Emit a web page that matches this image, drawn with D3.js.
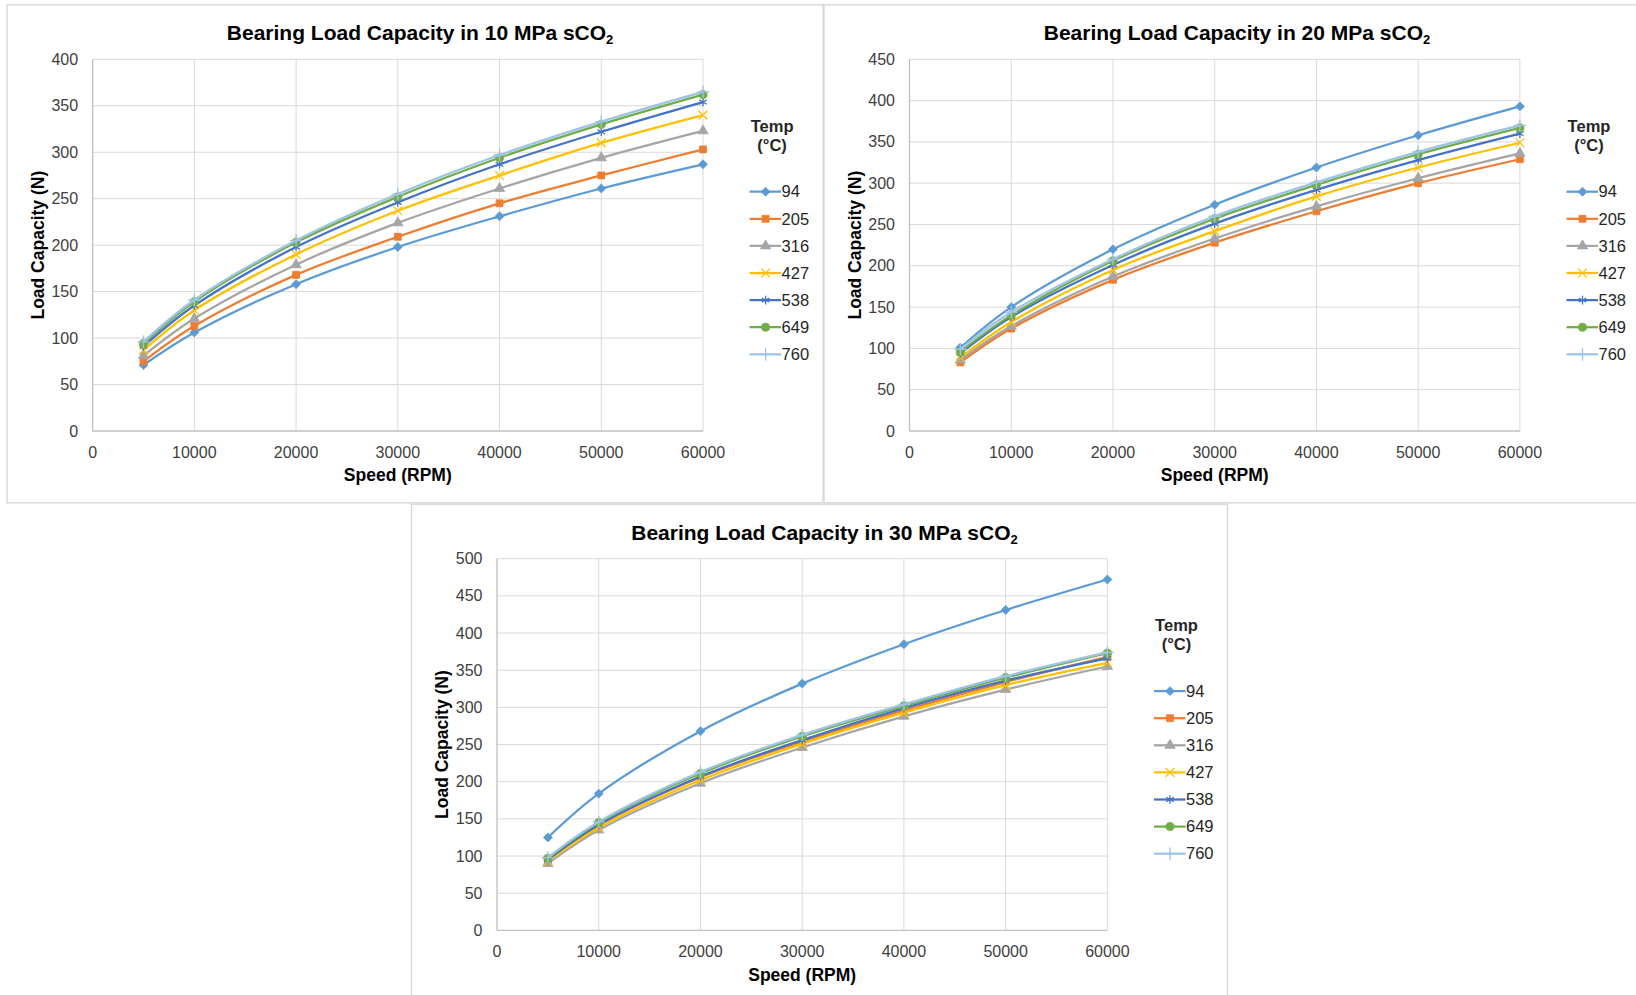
<!DOCTYPE html>
<meta charset="utf-8">
<style>
  body { margin: 0; background: #fff; }
  svg { display: block; font-family: "Liberation Sans", Arial, sans-serif; }
  .grid line { stroke: #d9d9d9; stroke-width: 1; }
  .axisline { stroke: #bfbfbf; stroke-width: 1.3; }
  .tick-label { font-size: 16px; fill: #404040; }
  .axis-title { font-size: 17.5px; font-weight: bold; fill: #000; }
  .chart-title { font-size: 21px; font-weight: bold; fill: #000; }
  .legend text { font-size: 16.5px; fill: #262626; }
  .box { fill: none; stroke: #d9d9d9; stroke-width: 1.5; }
</style>
<body>
</body>
<script src="https://cdn.jsdelivr.net/npm/d3@7"></script>
<script>
  // speeds on the x axis (RPM)
  const speeds = [5000, 10000, 20000, 30000, 40000, 50000, 60000];
  const temps = ['94', '205', '316', '427', '538', '649', '760'];
  const xTicks = [0, 10000, 20000, 30000, 40000, 50000, 60000];

  // load capacity (N), one row per temperature in the order of temps
  const load10 = [
    [71, 106, 158, 198, 231, 261, 287],
    [75, 113, 168, 209, 245, 275, 303],
    [81, 121, 179, 224, 261, 294, 323],
    [87, 130, 190, 237, 275, 310, 340],
    [91, 135, 198, 246, 287, 322, 354],
    [94, 139, 203, 252, 294, 330, 362],
    [96, 141, 205, 255, 297, 333, 365],
  ];
  const load20 = [
    [101, 150, 220, 274, 319, 358, 393],
    [83, 124, 183, 228, 266, 300, 329],
    [86, 127, 187, 233, 272, 306, 336],
    [89, 132, 195, 242, 284, 319, 349],
    [94, 138, 201, 251, 292, 328, 360],
    [96, 140, 206, 257, 298, 335, 367],
    [99, 144, 208, 260, 301, 338, 370],
  ];
  const load30 = [
    [125, 184, 268, 332, 385, 431, 472],
    [94, 141, 206, 254, 296, 334, 368],
    [90, 135, 198, 246, 288, 324, 355],
    [93, 138, 202, 251, 293, 330, 360],
    [95, 142, 207, 256, 299, 336, 366],
    [97, 145, 211, 261, 302, 340, 373],
    [98, 146, 213, 263, 304, 342, 374],
  ];
  const yTicks10 = [0, 50, 100, 150, 200, 250, 300, 350, 400];
  const yTicks20 = [0, 50, 100, 150, 200, 250, 300, 350, 400, 450];
  const yTicks30 = [0, 50, 100, 150, 200, 250, 300, 350, 400, 450, 500];

  const colors = ['#5b9bd5', '#ed7d31', '#a5a5a5', '#ffc000', '#4472c4', '#70ad47', '#9dc3e6'];

  // excel style diamond: a square turned 45 degrees
  const diamond = {
    draw(ctx, size) {
      const r = Math.sqrt(size / 2);
      ctx.moveTo(0, -r);
      ctx.lineTo(r, 0);
      ctx.lineTo(0, r);
      ctx.lineTo(-r, 0);
      ctx.closePath();
    }
  };
  const symbols = [
    {type: diamond, size: 40, fill: true},
    {type: d3.symbolSquare, size: 48, fill: true},
    {type: d3.symbolTriangle, size: 46, fill: true},
    {type: d3.symbolTimes, size: 52, fill: false},
    {type: d3.symbolAsterisk, size: 52, fill: false},
    {type: d3.symbolCircle, size: 52, fill: true},
    {type: d3.symbolPlus, size: 52, fill: false},
  ];

  const W = 1636, H = 995;
  const pw = 610.4, ph = 371.7;

  const svg = d3.select('body').append('svg')
    .attr('width', W)
    .attr('height', H);

  const marker = (sel, i) => {
    const s = symbols[i];
    sel.attr('d', d3.symbol().type(s.type).size(s.size))
      .attr('fill', s.fill ? colors[i] : 'none')
      .attr('stroke', colors[i])
      .attr('stroke-width', s.fill ? 0.8 : 1.3);
  };

  function drawChart(ox, oy, pressure, rows, yTicks) {
    const g = svg.append('g').attr('transform', `translate(${ox}, ${oy})`);

    g.append('rect').attr('class', 'box')
      .attr('x', -85.5).attr('y', -54.5)
      .attr('width', 816).attr('height', 498);

    const x = d3.scaleLinear().domain([0, 60000]).range([0, pw]);
    const y = d3.scaleLinear().domain([0, d3.max(yTicks)]).range([ph, 0]);

    // gridlines
    const grid = g.append('g').attr('class', 'grid');
    grid.selectAll('.h').data(yTicks.slice(1)).join('line')
      .attr('x1', 0).attr('x2', pw)
      .attr('y1', d => y(d)).attr('y2', d => y(d));
    grid.selectAll('.v').data(xTicks.slice(1)).join('line')
      .attr('y1', 0).attr('y2', ph)
      .attr('x1', d => x(d)).attr('x2', d => x(d));

    g.append('line').attr('class', 'axisline')
      .attr('x1', 0).attr('x2', pw).attr('y1', ph).attr('y2', ph);
    g.append('line').attr('class', 'axisline')
      .attr('x1', 0).attr('x2', 0).attr('y1', 0).attr('y2', ph);

    // tick labels
    g.append('g').selectAll('text').data(yTicks).join('text')
      .attr('class', 'tick-label')
      .attr('x', -14.5).attr('y', d => y(d))
      .attr('dy', '0.35em')
      .attr('text-anchor', 'end')
      .text(d => d);
    g.append('g').selectAll('text').data(xTicks).join('text')
      .attr('class', 'tick-label')
      .attr('x', d => x(d)).attr('y', ph + 21)
      .attr('dy', '0.35em')
      .attr('text-anchor', 'middle')
      .text(d => d);

    // titles
    const t = g.append('text').attr('class', 'chart-title')
      .attr('x', 327.5).attr('y', -19)
      .attr('text-anchor', 'middle');
    t.append('tspan').text(`Bearing Load Capacity in ${pressure} MPa sCO`);
    t.append('tspan').attr('font-size', '13px').attr('dy', 4).text('2');

    g.append('text').attr('class', 'axis-title')
      .attr('x', pw / 2).attr('y', ph + 44)
      .attr('dy', '0.35em')
      .attr('text-anchor', 'middle')
      .text('Speed (RPM)');
    g.append('text').attr('class', 'axis-title')
      .attr('transform', `translate(-55, ${ph / 2}) rotate(-90)`)
      .attr('dy', '0.35em')
      .attr('text-anchor', 'middle')
      .text('Load Capacity (N)');

    // series
    const line = d3.line()
      .x((d, i) => x(speeds[i]))
      .y(d => y(d))
      .curve(d3.curveCatmullRom.alpha(0.5));

    rows.forEach((row, i) => {
      const s = g.append('g');
      s.append('path')
        .attr('d', line(row))
        .attr('fill', 'none')
        .attr('stroke', colors[i])
        .attr('stroke-width', 2.25)
        .attr('stroke-linejoin', 'round');
      s.selectAll('path.m').data(row).join('path')
        .attr('class', 'm')
        .attr('transform', (d, j) => `translate(${x(speeds[j])}, ${y(d)})`)
        .call(marker, i);
    });

    // legend
    const lg = g.append('g').attr('class', 'legend');
    lg.append('text').attr('x', 679.5).attr('y', 66.7).attr('dy', '0.35em')
      .attr('text-anchor', 'middle').attr('font-weight', 'bold').text('Temp');
    lg.append('text').attr('x', 679.5).attr('y', 85.7).attr('dy', '0.35em')
      .attr('text-anchor', 'middle').attr('font-weight', 'bold').text('(°C)');
    temps.forEach((name, i) => {
      const ly = 132.4 + i * 27.1;
      lg.append('line')
        .attr('x1', 657).attr('x2', 688.5).attr('y1', ly).attr('y2', ly)
        .attr('stroke', colors[i]).attr('stroke-width', 2.25);
      lg.append('path')
        .attr('transform', `translate(673, ${ly})`)
        .call(marker, i);
      lg.append('text')
        .attr('x', 689).attr('y', ly).attr('dy', '0.35em')
        .text(name);
    });
  }

  drawChart(92.6, 59.3, 10, load10, yTicks10);
  drawChart(909.5, 59.3, 20, load20, yTicks20);
  drawChart(497, 558.7, 30, load30, yTicks30);
</script>
